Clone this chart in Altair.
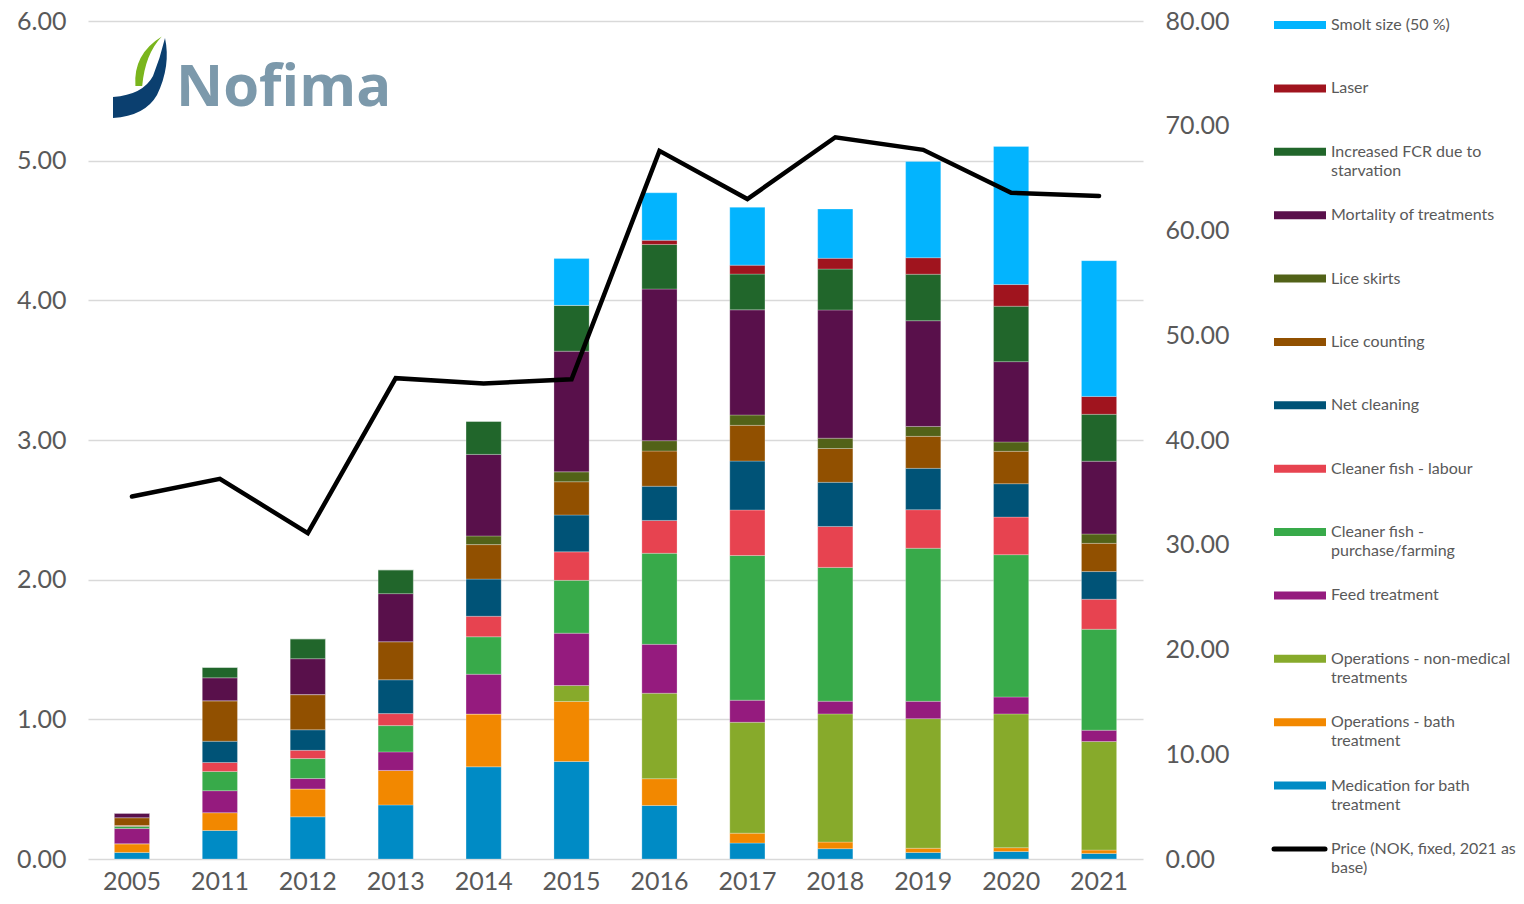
import altair as alt
import pandas as pd

years = ["2005", "2011", "2012", "2013", "2014", "2015", "2016", "2017", "2018", "2019", "2020", "2021"]

medication = [0.047, 0.204, 0.302, 0.387, 0.660, 0.698, 0.383, 0.114, 0.074, 0.047, 0.054, 0.040]
ops_bath = [0.062, 0.128, 0.200, 0.247, 0.378, 0.430, 0.192, 0.071, 0.047, 0.030, 0.027, 0.024]
ops_nonmed = [0.0, 0.0, 0.0, 0.0, 0.0, 0.114, 0.612, 0.794, 0.918, 0.928, 0.958, 0.777]
feed = [0.109, 0.157, 0.074, 0.133, 0.285, 0.375, 0.350, 0.158, 0.091, 0.124, 0.121, 0.081]
cleaner_purchase = [0.017, 0.138, 0.143, 0.188, 0.268, 0.378, 0.652, 1.036, 0.958, 1.096, 1.019, 0.723]
cleaner_labour = [0.004, 0.064, 0.059, 0.086, 0.147, 0.204, 0.235, 0.326, 0.293, 0.276, 0.269, 0.215]
net_cleaning = [0.0, 0.152, 0.147, 0.242, 0.266, 0.264, 0.245, 0.350, 0.316, 0.296, 0.239, 0.198]
lice_counting = [0.057, 0.290, 0.252, 0.273, 0.247, 0.238, 0.252, 0.256, 0.242, 0.229, 0.232, 0.202]
lice_skirts = [0.0, 0.0, 0.0, 0.0, 0.062, 0.071, 0.074, 0.074, 0.074, 0.071, 0.067, 0.067]
mortality = [0.033, 0.164, 0.257, 0.344, 0.584, 0.864, 1.086, 0.753, 0.918, 0.757, 0.575, 0.521]
fcr = [0.0, 0.076, 0.143, 0.171, 0.238, 0.328, 0.319, 0.256, 0.293, 0.333, 0.397, 0.336]
laser = [0.0, 0.0, 0.0, 0.0, 0.0, 0.0, 0.030, 0.064, 0.077, 0.118, 0.155, 0.128]
smolt = [0.0, 0.0, 0.0, 0.0, 0.0, 0.335, 0.340, 0.414, 0.353, 0.689, 0.989, 0.972]

price = [34.6, 36.3, 31.1, 45.9, 45.4, 45.8, 67.6, 63.0, 68.9, 67.7, 63.6, 63.3]

series_names = [
    "Medication for bath treatment",
    "Operations - bath treatment",
    "Operations - non-medical treatments",
    "Feed treatment",
    "Cleaner fish - purchase/farming",
    "Cleaner fish - labour",
    "Net cleaning",
    "Lice counting",
    "Lice skirts",
    "Mortality of treatments",
    "Increased FCR due to starvation",
    "Laser",
    "Smolt size (50 %)",
]
series_values = [medication, ops_bath, ops_nonmed, feed, cleaner_purchase, cleaner_labour,
                 net_cleaning, lice_counting, lice_skirts, mortality, fcr, laser, smolt]
series_colors = ["#008bc5", "#f28800", "#87aa2b", "#951b7e", "#38aa4a", "#e74350",
                 "#005377", "#915000", "#526218", "#59104b", "#21662b", "#a0141e", "#03b4fe"]

legend_labels = {
    "Smolt size (50 %)": "Smolt size (50 %)",
    "Laser": "Laser",
    "Increased FCR due to starvation": "Increased FCR due to\nstarvation",
    "Mortality of treatments": "Mortality of treatments",
    "Lice skirts": "Lice skirts",
    "Lice counting": "Lice counting",
    "Net cleaning": "Net cleaning",
    "Cleaner fish - labour": "Cleaner fish - labour",
    "Cleaner fish - purchase/farming": "Cleaner fish -\npurchase/farming",
    "Feed treatment": "Feed treatment",
    "Operations - non-medical treatments": "Operations - non-medical\ntreatments",
    "Operations - bath treatment": "Operations - bath\ntreatment",
    "Medication for bath treatment": "Medication for bath\ntreatment",
}
price_label = "Price (NOK, fixed, 2021 as\nbase)"

rows = []
for k, (name, vals) in enumerate(zip(series_names, series_values)):
    for yr, v in zip(years, vals):
        rows.append({"year": yr, "series": name, "order": k, "value": v})
bars_df = pd.DataFrame(rows)
price_df = pd.DataFrame({"year": years, "price": price})

legend_order = list(reversed(series_names))
leg_df = pd.DataFrame({
    "idx": list(range(len(legend_order))),
    "series": legend_order,
    "label": [legend_labels[s] for s in legend_order],
})
price_leg_df = pd.DataFrame({"idx": [len(legend_order)], "label": [price_label]})

text_color = "#595959"
font = "Lato"
axis_size = 25
leg_size = 16

x_enc = alt.X("year:N", sort=years, title=None,
              scale=alt.Scale(paddingInner=0.6, paddingOuter=0.3),
              axis=alt.Axis(labelAngle=0, ticks=False, domain=False, labelPadding=10,
                            labelFontSize=axis_size, labelColor=text_color, labelFont=font))
color_scale = alt.Scale(domain=series_names, range=series_colors)

bars = alt.Chart(bars_df).mark_bar(stroke="#ffffff", strokeWidth=0.5, strokeOpacity=0.5).encode(
    x=x_enc,
    y=alt.Y("value:Q", stack="zero", title=None,
            scale=alt.Scale(domain=[0, 6]),
            axis=alt.Axis(orient="left", values=[0, 1, 2, 3, 4, 5, 6], format=".2f",
                          ticks=False, domain=False, labelPadding=22,
                          labelFontSize=axis_size, labelColor=text_color, labelFont=font,
                          gridColor="#d9d9d9", gridWidth=1.5)),
    color=alt.Color("series:N", scale=color_scale, legend=None),
    order=alt.Order("order:Q", sort="ascending"),
)

line = alt.Chart(price_df).mark_line(color="#000000", strokeWidth=4.5, strokeCap="round",
                                     strokeJoin="miter").encode(
    x=alt.X("year:N", sort=years),
    y=alt.Y("price:Q", title=None, scale=alt.Scale(domain=[0, 80]),
            axis=alt.Axis(orient="right", values=[0, 10, 20, 30, 40, 50, 60, 70, 80], format=".2f",
                          ticks=False, domain=False, grid=False, labelPadding=22,
                          labelFontSize=axis_size, labelColor=text_color, labelFont=font)),
)

leg_y = alt.Y("idx:Q", scale=alt.Scale(domain=[0, 13], range=[4, 828]), axis=None)

leg_swatch = alt.Chart(leg_df).mark_rule(strokeWidth=8).encode(
    y=leg_y,
    x=alt.value(1186), x2=alt.value(1238),
    color=alt.Color("series:N", scale=color_scale, legend=None),
)
leg_text = alt.Chart(leg_df).mark_text(align="left", baseline="top", dy=-8, fontSize=leg_size,
                                       font=font, color=text_color, lineBreak="\n",
                                       lineHeight=19).encode(
    y=leg_y, x=alt.value(1243), text="label:N",
)
price_swatch = alt.Chart(price_leg_df).mark_rule(strokeWidth=5, color="#000000",
                                                 strokeCap="round").encode(
    y=leg_y, x=alt.value(1186), x2=alt.value(1237),
)
price_text = alt.Chart(price_leg_df).mark_text(align="left", baseline="top", dy=-8, fontSize=leg_size,
                                               font=font, color=text_color, lineBreak="\n",
                                               lineHeight=19).encode(
    y=leg_y, x=alt.value(1243), text="label:N",
)

one = pd.DataFrame({"k": [0]})
blue_path = "M0.6,-1 Q0.75,-0.3 0.4,0.425 Q0.1,0.95 -0.7,1 L-0.7,0.475 Q0.05,0.42 0.3,-0.05 Q0.48,-0.5 0.6,-1 Z"
green_path = "M-0.14,0.2 Q-0.2,-0.6 0.52,-1.04 Q0.1,-0.6 0.03,0.2 Z"
logo_blue = alt.Chart(one).mark_point(shape=blue_path, filled=True, size=6400, color="#0b3f6f",
                                      opacity=1, strokeWidth=0).encode(
    x=alt.value(53), y=alt.value(57))
logo_green = alt.Chart(one).mark_point(shape=green_path, filled=True, size=6400, color="#7ab51d",
                                       opacity=1, strokeWidth=0).encode(
    x=alt.value(53), y=alt.value(57))
logo_text = alt.Chart(pd.DataFrame({"t": ["Nofima"]})).mark_text(
    align="left", baseline="alphabetic", fontSize=58, fontWeight="bold", font="Open Sans",
    color="#7c99ab").encode(x=alt.value(88), y=alt.value(85), text="t:N")

chart = alt.layer(
    bars, line, leg_swatch, leg_text, price_swatch, price_text, logo_blue, logo_green, logo_text
).resolve_scale(y="independent").properties(
    width=1055, height=838,
    autosize=alt.AutoSizeParams(type="none"),
    padding={"left": 80, "top": 13, "right": 373, "bottom": 37},
).configure_view(stroke=None)

chart.save("out.html", embed_options={"renderer": "svg", "actions": False})
